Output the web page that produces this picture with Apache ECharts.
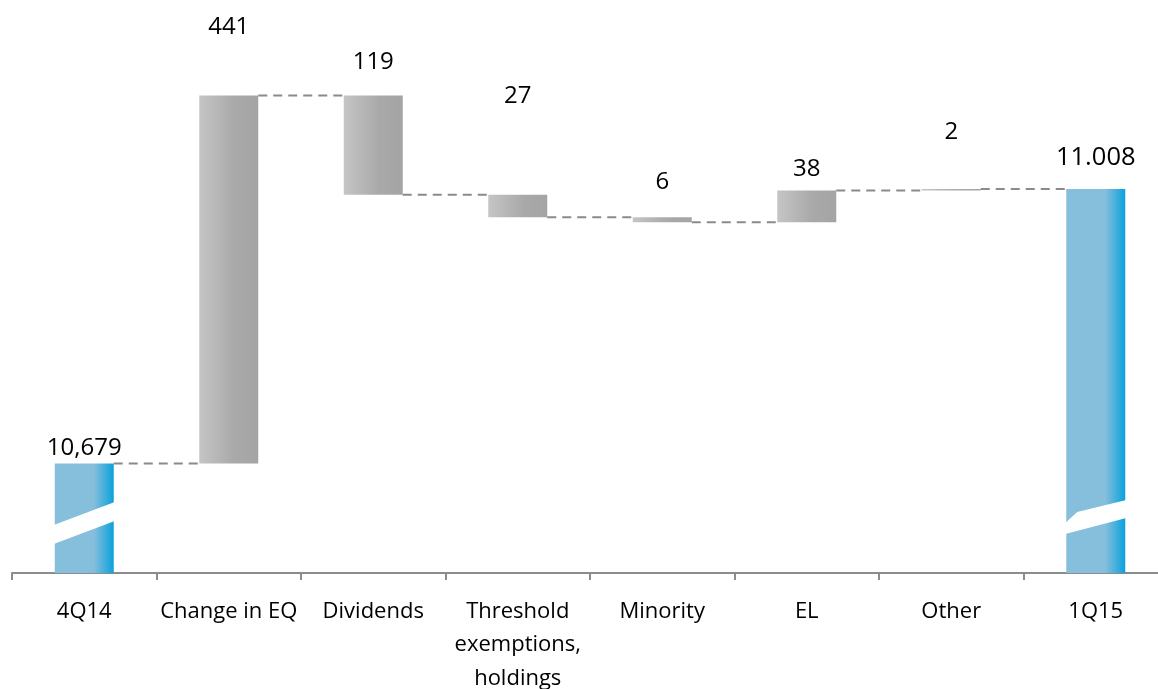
<!DOCTYPE html>
<html><head><meta charset="utf-8">
<script src="https://cdn.jsdelivr.net/npm/echarts@6/dist/echarts.min.js"></script>
<style>html,body{margin:0;padding:0;background:#fff}#c{width:1158px;height:689px}</style>
</head><body><div id="c"></div>
<script>
// ---- data ----
const categories = ['4Q14', 'Change in EQ', 'Dividends', 'Threshold\nexemptions,\nholdings', 'Minority', 'EL', 'Other', '1Q15'];
const startValue = 10679;
const deltas = [441, -119, -27, -6, 38, 2];
const endValue = 11008;
const valueLabels = ['10,679', '441', '119', '27', '6', '38', '2', '11.008'];
const axisMin = 10548;
const axisMax = 11200;

// ---- styling ----
const labelLift = [15.6, 68, 33, 99, 35, 21, 57, 31];
const labelSize = [24, 24, 24, 24, 24, 24, 24, 25.5];
const barW = 59;

// build rows [index, low, high] and connector levels
const rows = [[0, axisMin, startValue]];
const levels = [startValue];
let run = startValue;
deltas.forEach((d, k) => {
  const a = run, b = run + d;
  rows.push([k + 1, Math.min(a, b), Math.max(a, b)]);
  levels.push(b);
  run = b;
});
rows.push([categories.length - 1, axisMin, endValue]);
const isTotal = i => i === 0 || i === categories.length - 1;

const grayFill = () => new echarts.graphic.LinearGradient(0, 0, 1, 0, [
  { offset: 0, color: '#c5c5c5' }, { offset: 0.6, color: '#a9a9a9' }, { offset: 1, color: '#a4a4a4' }]);
const blueFill = () => new echarts.graphic.LinearGradient(0, 0, 1, 0, [
  { offset: 0, color: '#86bfdb' }, { offset: 0.66, color: '#86bfdb' }, { offset: 1, color: '#0aa1dd' }]);

function renderItem(params, api) {
  const i = params.dataIndex;
  const r = rows[i];
  const pTop = api.coord([r[0], r[2]]);
  const pBot = api.coord([r[0], r[1]]);
  const x = pTop[0] - barW / 2;
  const children = [];
  children.push({
    type: 'rect',
    shape: { x: x, y: pTop[1], width: barW, height: Math.max(1.5, pBot[1] - pTop[1]) },
    style: { fill: isTotal(i) ? blueFill() : grayFill() }
  });
  if (i === 0) {
    const by = pBot[1];
    children.push({ type: 'polygon', shape: { points: [[x - 1, by - 29], [x - 1, by - 48], [x + barW + 1, by - 71], [x + barW + 1, by - 52]] }, style: { fill: '#fff' } });
  }
  if (i === categories.length - 1) {
    const by = pBot[1];
    children.push({ type: 'polygon', shape: { points: [[x - 1, by - 39], [x - 1, by - 50], [x + 11, by - 61], [x + barW + 1, by - 73], [x + barW + 1, by - 55]] }, style: { fill: '#fff' } });
  }
  if (i < categories.length - 1) {
    const p1 = api.coord([r[0], levels[i]]);
    const p2 = api.coord([r[0] + 1, levels[i]]);
    children.push({
      type: 'line',
      shape: { x1: p1[0] + barW / 2, y1: p1[1], x2: p2[0] - barW / 2, y2: p1[1] },
      style: { stroke: '#8a8a8a', lineWidth: 2, lineDash: [9, 6] }
    });
  }
  children.push({
    type: 'text',
    style: {
      text: valueLabels[i], x: pTop[0], y: pTop[1] - labelLift[i],
      align: 'center', verticalAlign: 'middle',
      font: labelSize[i] + 'px "Open Sans"', fill: '#000'
    }
  });
  return { type: 'group', children: children };
}

const chart = echarts.init(document.getElementById('c'), null, { renderer: 'canvas' });
chart.setOption({
  animation: false,
  backgroundColor: '#fff',
  grid: { left: 12, width: 1156, top: 28.6, bottom: 116, outerBoundsMode: 'none', containLabel: false },
  xAxis: {
    type: 'category', data: categories, boundaryGap: true,
    axisLine: { lineStyle: { color: '#8c8c8c', width: 2 } },
    axisTick: { show: true, length: 7, lineStyle: { color: '#8c8c8c', width: 2 } },
    axisLabel: { interval: 0, fontSize: 22, fontFamily: 'Open Sans', color: '#000', lineHeight: 33.5, margin: 21.5 }
  },
  yAxis: { type: 'value', min: axisMin, max: axisMax, show: false, splitLine: { show: false } },
  series: [{
    type: 'custom', renderItem: renderItem, clip: false,
    encode: { x: 0, y: [1, 2] },
    data: rows
  }]
});
</script></body></html>
